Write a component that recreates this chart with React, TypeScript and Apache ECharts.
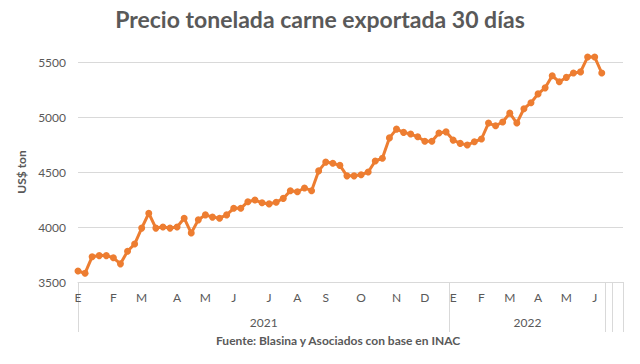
import React, { useEffect, useRef } from "react";
import * as echarts from "echarts";

const title = "Precio tonelada carne exportada 30 días";
const source = "Fuente: Blasina y Asociados con base en INAC";
const yAxisName = "US$ ton";

const years = ["2021", "2022"];
const months2021 = ["E", "F", "M", "A", "M", "J", "J", "A", "S", "O", "N", "D"];
const weeks2021 = [5, 4, 5, 4, 4, 5, 4, 4, 5, 5, 4, 4];
const months2022 = ["E", "F", "M", "A", "M", "J"];
const weeks2022 = [4, 4, 4, 4, 4, 2];
const emptyTrailingWeeks = 3;

const prices = [
  3600, 3580, 3730, 3740, 3740, 3720, 3665, 3780, 3845, 3990,
  4125, 3990, 4000, 3990, 4000, 4080, 3945, 4065, 4110, 4090,
  4080, 4110, 4170, 4170, 4230, 4245, 4220, 4210, 4225, 4260,
  4330, 4320, 4355, 4330, 4510, 4590, 4580, 4560, 4465, 4465,
  4475, 4500, 4600, 4625, 4810, 4890, 4860, 4845, 4820, 4780,
  4780, 4855, 4865, 4790, 4760, 4745, 4775, 4800, 4945, 4920,
  4955, 5035, 4945, 5075, 5130, 5210, 5265, 5375, 5320, 5360,
  5400, 5410, 5545, 5545, 5400,
];

const yMin = 3500;
const yMax = 5500;
const yStep = 500;

const FONT = "Lato, 'Open Sans', sans-serif";
const GRAY = "#595959";
const LINE = "#d9d9d9";

function expand(months: string[], weeks: number[]): string[] {
  const out: string[] = [];
  months.forEach((m, i) => {
    for (let k = 0; k < weeks[i]; k++) out.push(k === 0 ? m : "");
  });
  return out;
}

export default function App() {
  const ref = useRef<HTMLDivElement>(null);

  useEffect(() => {
    if (!ref.current) return;
    const chart = echarts.init(ref.current, undefined, { renderer: "svg" });

    const n2021 = weeks2021.reduce((a, b) => a + b, 0);
    const n2022 = weeks2022.reduce((a, b) => a + b, 0);
    const total = n2021 + n2022;
    const categories = [
      ...expand(months2021, weeks2021),
      ...expand(months2022, weeks2022),
      ...Array(emptyTrailingWeeks).fill(""),
    ];
    const lastIndex = categories.length - 1;
    const separators = [0, n2021 - 0.5, total - 0.5, total + 0.5, lastIndex];
    const yearCenters = [(n2021 - 0.5) / 2, (n2021 - 0.5 + total - 0.5) / 2];

    chart.setOption({
      animation: false,
      backgroundColor: "#ffffff",
      textStyle: { fontFamily: FONT },
      title: {
        text: title,
        left: "center",
        top: 2,
        textStyle: { fontFamily: FONT, fontSize: 23, fontWeight: "bold", color: GRAY },
      },
      grid: { left: 78, right: 17, top: 62, bottom: 82 },
      xAxis: [
        {
          type: "category",
          data: categories,
          boundaryGap: false,
          axisLine: { show: true, lineStyle: { color: LINE, width: 1 } },
          axisTick: { show: false },
          axisLabel: {
            interval: 0,
            color: GRAY,
            fontFamily: FONT,
            fontSize: 12,
            margin: 9,
          },
          splitLine: { show: false },
        },
        {
          type: "value",
          min: 0,
          max: lastIndex,
          position: "bottom",
          axisLine: { show: false },
          splitLine: { show: false },
          axisTick: {
            show: true,
            customValues: separators,
            length: 50,
            lineStyle: { color: LINE, width: 1 },
          },
          axisLabel: {
            show: true,
            customValues: yearCenters,
            formatter: (v: number) => {
              const i = yearCenters.findIndex((c) => Math.abs(c - v) < 0.01);
              return i >= 0 ? years[i] : "";
            },
            color: GRAY,
            fontFamily: FONT,
            fontSize: 12,
            margin: 34,
          },
        },
      ],
      yAxis: {
        type: "value",
        min: yMin,
        max: yMax,
        interval: yStep,
        name: yAxisName,
        nameLocation: "middle",
        nameGap: 42,
        nameTextStyle: { color: GRAY, fontFamily: FONT, fontSize: 12, fontWeight: "bold" },
        axisLine: { show: false },
        axisTick: { show: false },
        axisLabel: {
          color: GRAY,
          fontFamily: FONT,
          fontSize: 12,
          margin: 12,
          formatter: (v: number) => String(v),
        },
        splitLine: { lineStyle: { color: LINE, width: 1 } },
      },
      series: [
        {
          type: "line",
          xAxisIndex: 0,
          data: prices,
          clip: false,
          symbol: "circle",
          symbolSize: 7,
          showSymbol: true,
          lineStyle: { color: "#ED7D31", width: 3 },
          itemStyle: { color: "#ED7D31" },
        },
      ],
      graphic: [
        {
          type: "text",
          left: 216,
          top: 334,
          style: {
            text: source,
            fill: GRAY,
            font: `bold 12px ${FONT}`,
          },
        },
      ],
    });

    return () => chart.dispose();
  }, []);

  return (
    <div
      ref={ref}
      style={{ position: "fixed", left: 0, top: 0, width: 640, height: 364 }}
    />
  );
}
